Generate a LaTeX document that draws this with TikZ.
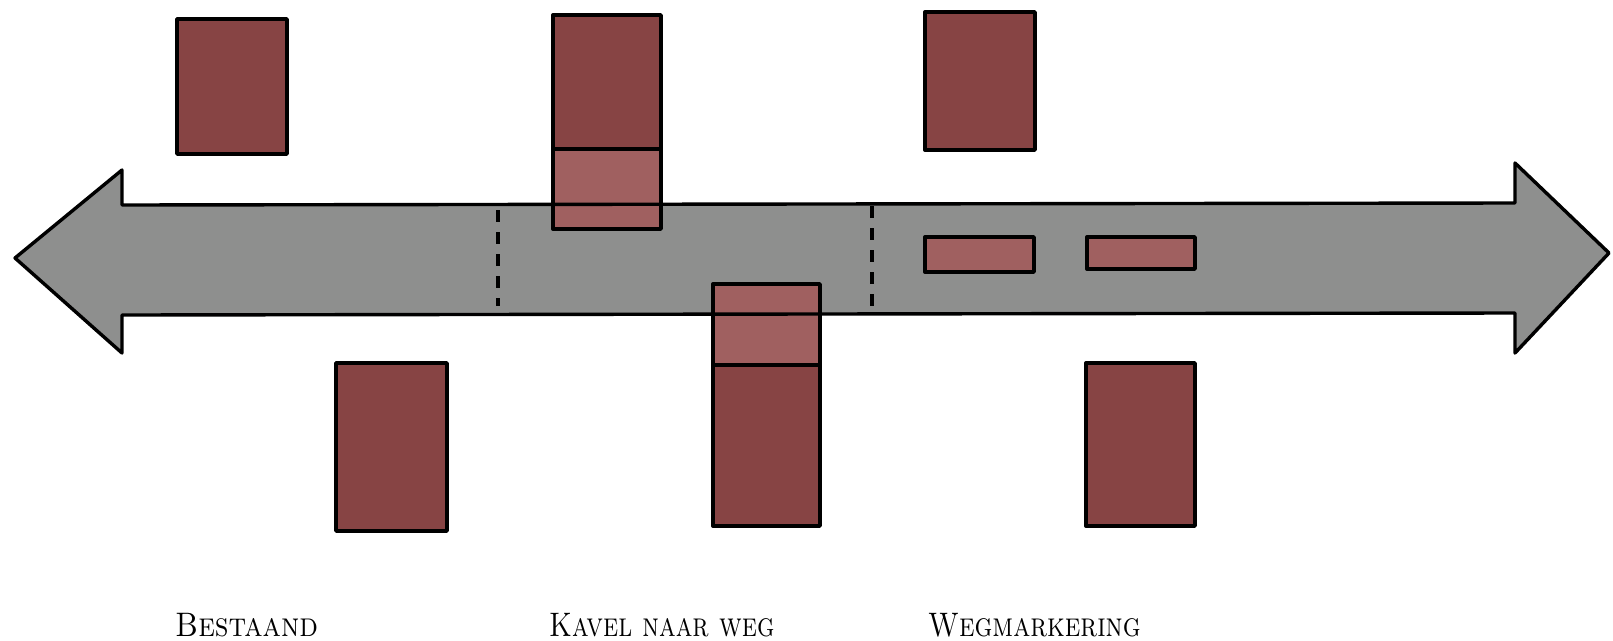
\documentclass[tikz,border=0pt]{standalone}
\usepackage{xcolor}
\definecolor{roadgray}{HTML}{8E8F8E}
\definecolor{plotdark}{HTML}{874444}
\definecolor{plotlight}{HTML}{A06060}
\usepackage{tikz}
\usetikzlibrary{positioning}

\begin{document}
\begin{tikzpicture}[x=1pt, y=-1pt,
    outline/.style={draw=black, line width=3.4pt, line join=round},
    plot/.style={outline, fill=plotdark},
    plotpart/.style={outline, fill=plotlight},
    border/.style={draw=black, line width=3.2pt, dash pattern=on 12pt off 10pt},
    caption/.style={font=\fontsize{34}{40}\selectfont\scshape, anchor=base west, inner sep=0pt}]
  \useasboundingbox (0,0) rectangle (1613,640);
  % road -- fill first, outline after the plots
  \fill[roadgray] (15,258) -- (122,170) -- (122,205) -- (1515,203) -- (1515,163)
    -- (1609,253) -- (1515,353) -- (1515,313) -- (122,315) -- (122,353) -- cycle;
  % Bestaand
  \draw[plot] (177,19) rectangle (287,154);
  \draw[plot] (336,363) rectangle (447,531);
  % Kavel naar weg
  \draw[plot] (553,15) rectangle (661,149);
  \draw[plotpart] (553,149) rectangle (661,229);
  \draw[plotpart] (713,284) rectangle (820,365);
  \draw[plot] (713,365) rectangle (820,526);
  % Wegmarkering
  \draw[plot] (925,12) rectangle (1035,150);
  \draw[plotpart] (925,237) rectangle (1034,272);
  \draw[plotpart] (1087,237) rectangle (1195,269);
  \draw[plot] (1086,363) rectangle (1195,526);
  % road outline on top
  \draw[outline] (15,258) -- (122,170) -- (122,205) -- (1515,203) -- (1515,163)
    -- (1609,253) -- (1515,353) -- (1515,313) -- (122,315) -- (122,353) -- cycle;
  % zone borders
  \draw[border] (498,210) -- (498,306);
  \draw[border] (872,206) -- (872,306);
  % captions
  \node[caption] (bestaand) at (175,636) {\scalebox{0.88}[1]{Bestaand}};
  \node[caption] (kavel) at (549,636) {\scalebox{0.8}[1]{Kavel naar weg}};
  \node[caption] (weg) at (928,636) {\scalebox{0.82}[1]{Wegmarkering}};
\end{tikzpicture}
\end{document}
